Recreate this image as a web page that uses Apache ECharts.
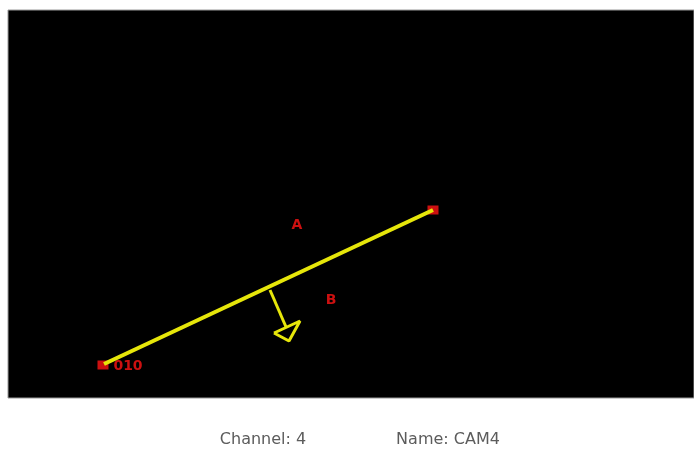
<!DOCTYPE html>
<html>
<head>
<meta charset="utf-8">
<script src="https://cdn.jsdelivr.net/npm/echarts@6/dist/echarts.min.js"></script>
<style>
  html, body { margin: 0; padding: 0; background: #fff; }
  #chart { width: 694px; height: 450px; }
</style>
</head>
<body>
<div id="chart"></div>
<script>
// scene coordinates in picture pixels
const tripwire = [[104, 364], [433, 210]]
const arrowStem = [[270, 290], [286, 327]]
const arrowHead = [[274, 333], [300, 321], [289, 341], [274, 333]]
const endPoints = [[103, 365], [433, 210]]
const labels = [
  { name: 'A', pos: [297, 225] },
  { name: 'B', pos: [331, 300] },
  { name: '010', pos: [128, 366] },
]
const footer = ['Channel: 4', 'Name: CAM4']

const chart = echarts.init(document.getElementById('chart'))

const yellow = '#e6e60a'
const red = '#ff1414'
const footStyle = { color: '#5c5c5c', fontSize: 16, fontWeight: 'normal', fontFamily: 'DejaVu Sans' }

chart.setOption({
  backgroundColor: '#fff',
  animation: false,
  title: [
    { text: footer[0], left: 258, top: 427, textAlign: 'center', textStyle: footStyle },
    { text: footer[1], left: 443, top: 427, textAlign: 'center', textStyle: footStyle },
  ],
  grid: {
    left: 8, right: 0, top: 10, bottom: 52,
    show: true, backgroundColor: '#000', borderColor: '#999', borderWidth: 1,
  },
  xAxis: { type: 'value', min: 8, max: 694, show: false },
  yAxis: { type: 'value', min: 10, max: 398, inverse: true, show: false },
  series: [
    {
      type: 'line', data: tripwire, symbol: 'none',
      lineStyle: { color: yellow, width: 4 },
    },
    {
      type: 'line', data: arrowStem, symbol: 'none',
      lineStyle: { color: yellow, width: 3 },
    },
    {
      type: 'line', data: arrowHead, symbol: 'none',
      lineStyle: { color: yellow, width: 3 },
    },
    {
      type: 'scatter', data: endPoints, symbol: 'rect', symbolSize: [11, 9],
      itemStyle: { color: red },
    },
    {
      type: 'scatter', symbolSize: 0,
      data: labels.map(d => ({ name: d.name, value: d.pos })),
      label: {
        show: true, position: 'inside', formatter: '{b}',
        color: red, fontSize: 14, fontWeight: 'bold', fontFamily: 'DejaVu Sans',
      },
    },
  ],
})
</script>
</body>
</html>
